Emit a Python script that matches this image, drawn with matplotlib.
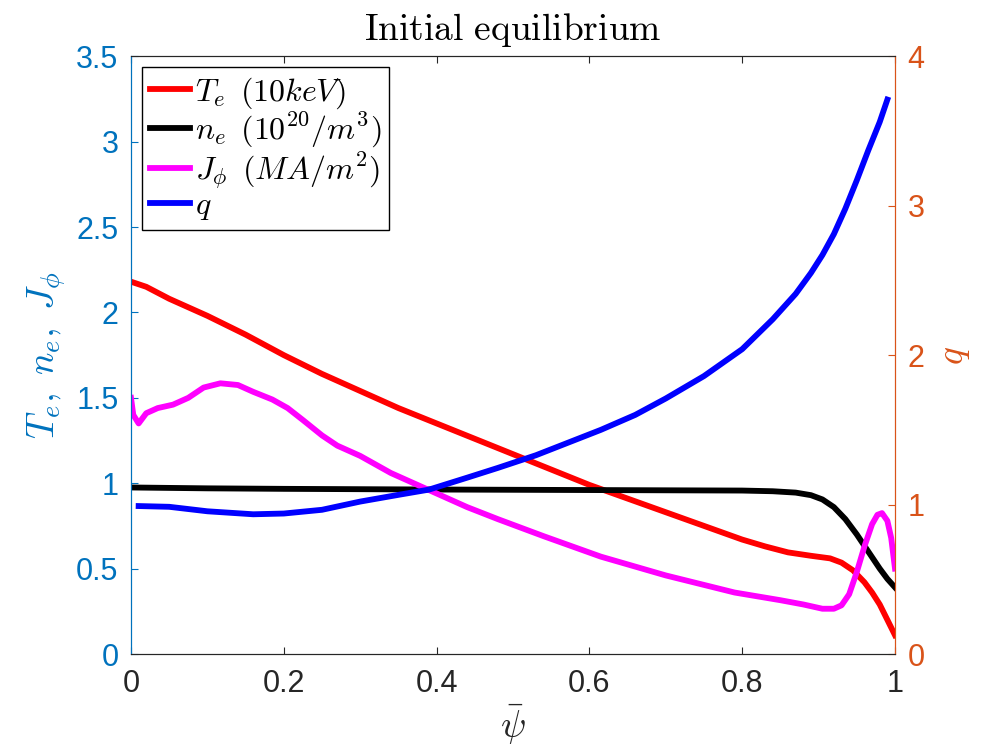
import matplotlib
matplotlib.use('Agg')
import matplotlib.pyplot as plt

plt.rcParams['font.family'] = ['Liberation Sans', 'DejaVu Sans']
plt.rcParams['mathtext.fontset'] = 'cm'

# values
te_x = [0.0, 0.02, 0.05, 0.10, 0.15, 0.20, 0.25, 0.30, 0.35, 0.40, 0.45, 0.50,
        0.55, 0.60, 0.65, 0.70, 0.75, 0.80, 0.83, 0.86, 0.89, 0.915, 0.93, 0.945,
        0.96, 0.97, 0.98, 0.99, 1.0]
te_y = [2.18, 2.15, 2.08, 1.98, 1.87, 1.75, 1.64, 1.54, 1.44, 1.35, 1.26, 1.17,
        1.08, 0.99, 0.91, 0.83, 0.75, 0.67, 0.63, 0.595, 0.575, 0.56, 0.535, 0.49,
        0.42, 0.36, 0.29, 0.20, 0.11]

ne_x = [0.0, 0.1, 0.2, 0.4, 0.6, 0.8, 0.84, 0.87, 0.89, 0.905, 0.92, 0.935,
        0.95, 0.965, 0.98, 0.99, 1.0]
ne_y = [0.975, 0.97, 0.967, 0.963, 0.96, 0.957, 0.953, 0.945, 0.93, 0.905, 0.86, 0.79,
        0.70, 0.60, 0.50, 0.44, 0.39]

j_x = [0.0, 0.003, 0.01, 0.02, 0.035, 0.055, 0.075, 0.095, 0.117, 0.14, 0.16, 0.185,
       0.205, 0.225, 0.25, 0.27, 0.30, 0.34, 0.39, 0.44, 0.48, 0.54, 0.615, 0.70,
       0.79, 0.85, 0.88, 0.905, 0.92, 0.93, 0.94, 0.95, 0.96, 0.97, 0.977, 0.983,
       0.99, 0.995, 1.0]
j_y = [1.50, 1.40, 1.35, 1.41, 1.44, 1.46, 1.50, 1.56, 1.585, 1.575, 1.535, 1.49,
       1.44, 1.37, 1.28, 1.22, 1.16, 1.06, 0.96, 0.86, 0.79, 0.69, 0.57, 0.46,
       0.36, 0.315, 0.29, 0.265, 0.265, 0.285, 0.35, 0.48, 0.63, 0.76, 0.815, 0.825,
       0.78, 0.68, 0.50]

q_x = [0.01, 0.05, 0.10, 0.16, 0.20, 0.25, 0.30, 0.35, 0.39, 0.44, 0.48, 0.53,
       0.57, 0.615, 0.66, 0.70, 0.75, 0.80, 0.84, 0.87, 0.89, 0.905, 0.92, 0.935,
       0.95, 0.965, 0.98, 0.99]
q_y = [0.99, 0.985, 0.955, 0.935, 0.94, 0.965, 1.02, 1.065, 1.10, 1.18, 1.245, 1.33,
       1.41, 1.50, 1.60, 1.71, 1.86, 2.04, 2.24, 2.41, 2.55, 2.67, 2.81, 2.98,
       3.17, 3.37, 3.56, 3.71]

left_color = '#0072BD'
right_color = '#D95319'
axis_gray = '#262626'
fs = 22

fig = plt.figure(figsize=(10, 7.5), dpi=100)
ax = fig.add_axes([0.131, 0.128, 0.764, 0.797])
ax2 = ax.twinx()

l1, = ax.plot(te_x, te_y, color='#FF0000', lw=4.2, label=r'$T_e\ \,(10keV)$')
l2, = ax.plot(ne_x, ne_y, color='black', lw=4.2, label=r'$n_e\ \,(10^{20}/m^3)$')
l3, = ax.plot(j_x, j_y, color='#FF00FF', lw=4.2, label=r'$J_\phi\ \,(MA/m^2)$')
l4, = ax2.plot(q_x, q_y, color='#0000FF', lw=4.2, label=r'$q$')

ax.set_xlim(0, 1)
ax.set_ylim(0, 3.5)
ax2.set_ylim(0, 4)
ax.set_xticks([0, 0.2, 0.4, 0.6, 0.8, 1])
ax.set_xticklabels(['0', '0.2', '0.4', '0.6', '0.8', '1'])
ax.set_yticks([0, 0.5, 1, 1.5, 2, 2.5, 3, 3.5])
ax.set_yticklabels(['0', '0.5', '1', '1.5', '2', '2.5', '3', '3.5'])
ax2.set_yticks([0, 1, 2, 3, 4])
ax2.set_yticklabels(['0', '1', '2', '3', '4'])

ax.tick_params(axis='x', direction='in', length=5, top=True, labelsize=fs,
               colors=axis_gray, pad=11)
ax.tick_params(axis='y', direction='in', length=5, labelsize=fs,
               colors=left_color, pad=9)
ax2.tick_params(axis='y', direction='in', length=5, labelsize=fs,
                colors=right_color, pad=9)

for a in (ax, ax2):
    a.spines['top'].set_color(axis_gray)
    a.spines['bottom'].set_color(axis_gray)
    a.spines['left'].set_color(left_color)
    a.spines['right'].set_color(right_color)

ax.set_xlabel(r'$\bar{\psi}$', fontsize=27, color=axis_gray, labelpad=2)
ax.set_ylabel(r'$T_e,\ n_e,\ J_\phi$', fontsize=27, color=left_color, labelpad=6)
ax2.set_ylabel(r'$q$', fontsize=27, color=right_color, labelpad=8)
ax.set_title(r'$\mathrm{Initial\ equilibrium}$', fontsize=27, pad=12)

leg = ax2.legend(handles=[l1, l2, l3, l4], loc='upper left', fontsize=23,
                 frameon=True, fancybox=False, edgecolor='black', framealpha=1,
                 handlelength=1.25, handletextpad=0.15, borderpad=0.25,
                 labelspacing=0.0, borderaxespad=0.35)
leg.get_frame().set_linewidth(1.0)

fig.savefig('out.png', dpi=100)
